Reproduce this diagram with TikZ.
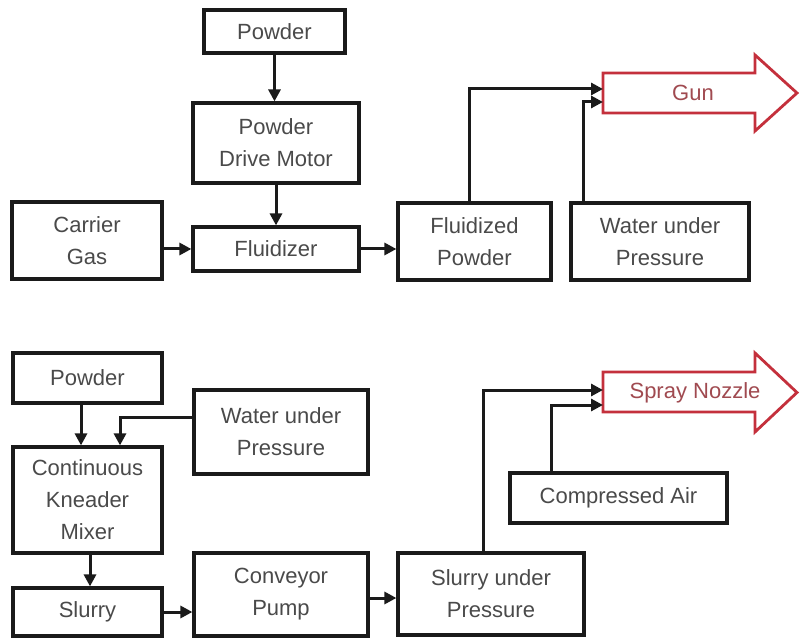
\documentclass[tikz,border=0pt]{standalone}
\usepackage{fontspec}
\setmainfont{Liberation Sans}
\usetikzlibrary{arrows.meta}
\definecolor{txtgray}{HTML}{4A4A4A}
\definecolor{linedark}{HTML}{1A1A1A}
\definecolor{arrred}{HTML}{C4303C}
\definecolor{redtxt}{HTML}{A04A50}
\tikzset{
  blk/.style={draw=linedark, line width=3.2pt, fill=white, inner sep=0pt,
    align=center, text=txtgray, font=\fontsize{22}{32}\selectfont},
  conn/.style={draw=linedark, line width=3pt,
    -{Triangle[length=12pt,width=12pt]}},
  bigarrow/.style={draw=arrred, line width=2.8pt, fill=white, line join=miter},
  arrtxt/.style={text=redtxt, font=\fontsize{22}{32}\selectfont}
}
\begin{document}
\begin{tikzpicture}[x=1pt,y=-1pt]
\useasboundingbox (0,0) rectangle (801,639);
% ---------- top ----------
\node[blk, minimum width=141pt, minimum height=43pt] (p1) at (274.5,31.5) {Powder};
\node[blk, minimum width=166pt, minimum height=80pt] (pdm) at (276,143) {Powder\\Drive Motor};
\node[blk, minimum width=166pt, minimum height=44pt] (fl) at (276,249) {Fluidizer};
\node[blk, minimum width=150pt, minimum height=77pt] (cg) at (87,240.5) {Carrier\\Gas};
\node[blk, minimum width=153pt, minimum height=77pt] (fp) at (474.5,241.5) {Fluidized\\Powder};
\node[blk, minimum width=178pt, minimum height=77pt] (wup1) at (660,241.5) {Water under\\Pressure};
\draw[bigarrow] (603,73) -- (755,73) -- (755,55) -- (797,93) -- (755,131) -- (755,113) -- (603,113) -- cycle;
\node[arrtxt] (gun) at (693,93) {Gun};
\coordinate (g1) at (603,89);
\coordinate (g2) at (603,102);
\draw[conn] (p1.south) -- (p1.south |- pdm.north);
\draw[conn] (pdm.south) -- (fl.north);
\draw[conn] (cg.east |- fl.west) -- (fl.west);
\draw[conn] (fl.east) -- (fl.east -| fp.west);
\draw[conn] ([xshift=-5.5pt]fp.north) |- (g1);
\draw[conn] ([xshift=-77pt]wup1.north) |- (g2);
% ---------- bottom ----------
\node[blk, minimum width=149pt, minimum height=50pt] (p2) at (87.5,378) {Powder};
\node[blk, minimum width=174pt, minimum height=84pt] (wup2) at (281,432) {Water under\\Pressure};
\node[blk, minimum width=149pt, minimum height=106pt] (ckm) at (87.5,500) {Continuous\\Kneader\\Mixer};
\node[blk, minimum width=149pt, minimum height=48pt] (sl) at (87.5,612) {Slurry};
\node[blk, minimum width=174pt, minimum height=83pt] (cp) at (281,594.5) {Conveyor\\Pump};
\node[blk, minimum width=186pt, minimum height=82pt] (sup) at (491,594) {Slurry under\\Pressure};
\node[blk, minimum width=217pt, minimum height=50pt] (ca) at (618.5,498) {Compressed Air};
\draw[bigarrow] (603,372) -- (755,372) -- (755,353) -- (797,392.5) -- (755,432) -- (755,412) -- (603,412) -- cycle;
\node[arrtxt] (sn) at (695,393) {Spray Nozzle};
\coordinate (s1) at (603,390);
\coordinate (s2) at (603,405);
\draw[conn] ([xshift=-6.5pt]p2.south) -- ([xshift=-6.5pt]ckm.north);
\draw[conn] ([yshift=15pt]wup2.west) -| ([xshift=32.5pt]ckm.north);
\draw[conn] ([xshift=2.5pt]ckm.south) -- ([xshift=2.5pt]sl.north);
\draw[conn] (sl.east) -- (sl.east -| cp.west);
\draw[conn] ([yshift=-3.5pt]cp.east) -- ([yshift=-3.5pt]cp.east -| sup.west);
\draw[conn] ([xshift=-8pt]sup.north) |- (s1);
\draw[conn] ([xshift=-67.5pt]ca.north) |- (s2);
\end{tikzpicture}
\end{document}
